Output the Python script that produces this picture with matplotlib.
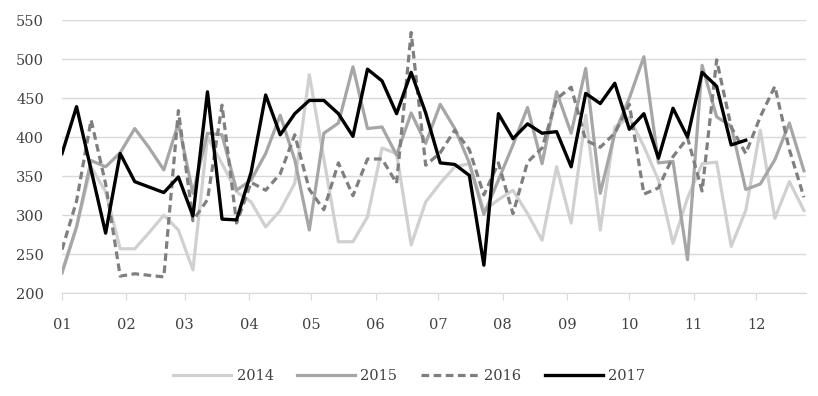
import matplotlib
matplotlib.use("Agg")
import matplotlib.pyplot as plt

# weekly observations (day offset from Jan 1)
months = ["01", "02", "03", "04", "05", "06", "07", "08", "09", "10", "11", "12"]
month_start_days = [0, 31, 59, 90, 120, 151, 181, 212, 243, 273, 304, 334]

s2014 = [228, 285, 362, 330, 257, 257, 278, 300, 281, 230, 400, 366, 330, 317,
         285, 306, 341, 480, 372, 266, 266, 298, 386, 379, 262, 317, 341, 362,
         366, 306, 320, 332, 302, 268, 362, 290, 428, 281, 413, 425, 388, 345,
         264, 322, 366, 368, 260, 306, 409, 296, 343, 306]
s2015 = [226, 285, 370, 362, 380, 411, 386, 358, 418, 328, 405, 403, 332, 345,
         379, 428, 371, 281, 405, 418, 490, 411, 413, 377, 431, 392, 442, 411,
         367, 301, 345, 390, 438, 366, 458, 405, 488, 328, 405, 450, 503, 367,
         369, 243, 492, 426, 414, 333, 340, 371, 418, 357]
s2016 = [256, 318, 422, 340, 222, 225, 223, 221, 434, 293, 320, 441, 290, 342,
         332, 353, 403, 333, 307, 367, 325, 372, 372, 341, 534, 364, 380, 409,
         384, 326, 367, 302, 368, 386, 449, 464, 396, 387, 405, 442, 327, 335,
         375, 399, 331, 499, 413, 379, 426, 465, 384, 323]
s2017 = [379, 439, 358, 277, 379, 343, 336, 329, 349, 299, 458, 295, 294, 355,
         454, 403, 430, 447, 447, 430, 401, 487, 472, 430, 483, 431, 367, 365,
         351, 236, 430, 398, 417, 405, 407, 362, 456, 443, 469, 410, 430, 373,
         437, 400, 483, 465, 390, 396]

def days(n):
    return [7 * i for i in range(n)]

font = "DejaVu Serif"
plt.rcParams["font.family"] = [font]

fig = plt.figure(figsize=(8.18, 3.96), dpi=100)
ax = fig.add_axes([62 / 818, 1 - 293.3 / 396, (806 - 62) / 818, (293.3 - 20) / 396])

ax.plot(days(len(s2014)), s2014, color="#d0d0d0", lw=2.3, label="2014")
ax.plot(days(len(s2015)), s2015, color="#a6a6a6", lw=2.3, label="2015")
ax.plot(days(len(s2016)), s2016, color="#7f7f7f", lw=2.3, linestyle=(0, (2.4, 1.4)), label="2016")
ax.plot(days(len(s2017)), s2017, color="#000000", lw=2.4, label="2017")

ax.set_xlim(0, 358)
ax.set_ylim(200, 550)
ax.set_yticks(range(200, 551, 50))
ax.set_xticks(month_start_days)
ax.set_xticklabels(months)
ax.yaxis.grid(True, color="#d9d9d9", lw=1)
ax.set_axisbelow(True)
for side in ["top", "right", "left"]:
    ax.spines[side].set_visible(False)
ax.spines["bottom"].set_color("#d9d9d9")
ax.tick_params(axis="y", length=0, pad=13, labelsize=10.5, labelcolor="#404040")
ax.tick_params(axis="x", length=5, color="#d9d9d9", pad=13, labelsize=10.5, labelcolor="#404040")

fig.legend(loc="center", bbox_to_anchor=(0.5, 0.05), ncol=4, frameon=False,
           fontsize=10.5, handlelength=4.0, handletextpad=0.35, columnspacing=1.6,
           labelcolor="#404040")

fig.savefig("out.png", dpi=100)
